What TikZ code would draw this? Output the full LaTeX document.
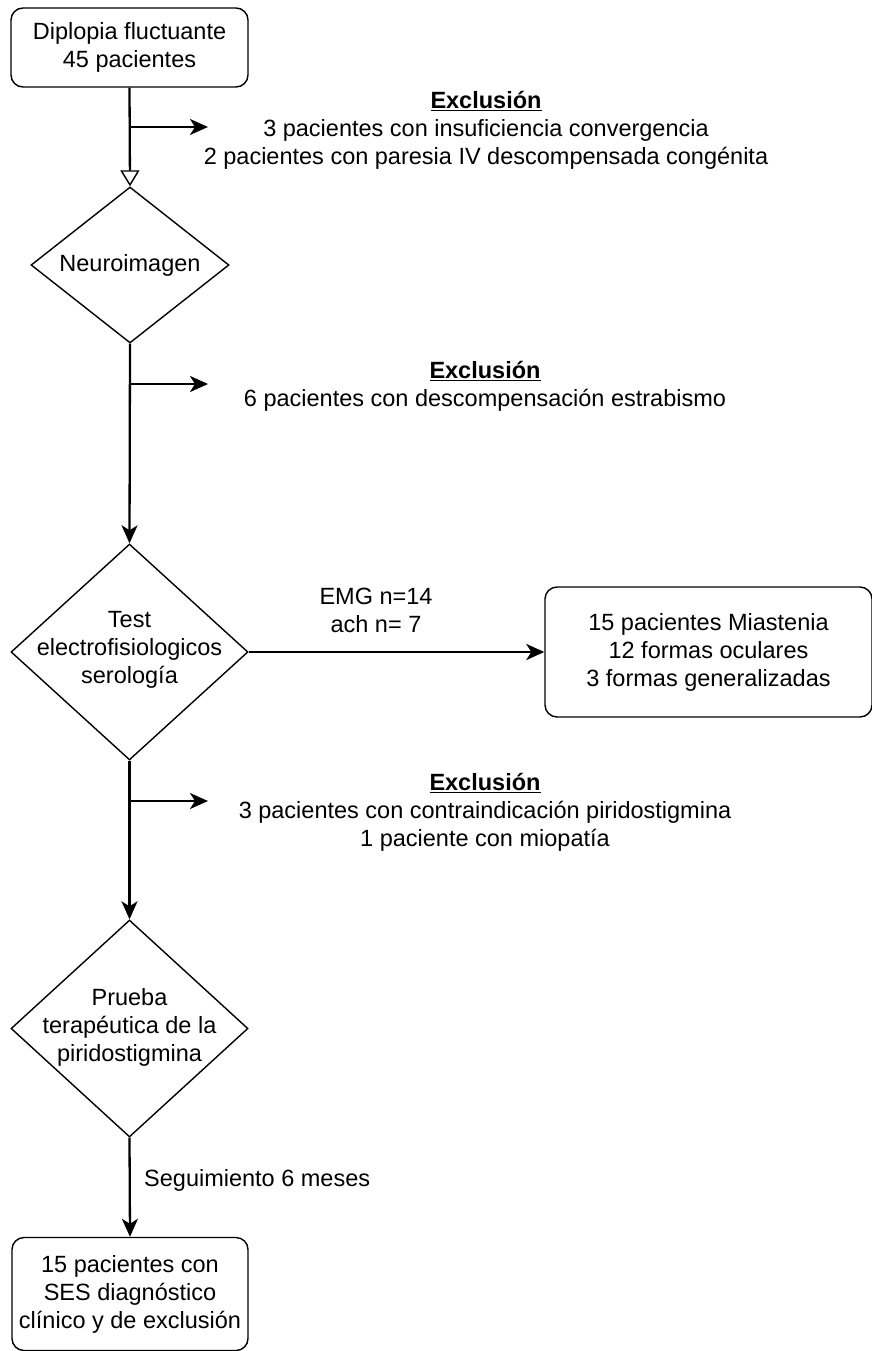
\documentclass[tikz,border=0pt]{standalone}
\usepackage{fontspec}
\setmainfont{Liberation Sans}
\usetikzlibrary{shapes.geometric,arrows.meta}
\begin{document}
\begin{tikzpicture}[x=1pt,y=-1pt,
  txt/.style={align=center,inner sep=0pt,font=\fontsize{23.5}{28}\selectfont},
  rbox/.style={draw,line width=1.4pt,rounded corners=12pt,inner sep=0pt,align=center,font=\fontsize{23.5}{28}\selectfont},
  dia/.style={draw,diamond,line width=1.4pt,inner sep=0pt},
  conn/.style={line width=2.3pt},
  arr/.style={conn,-{Stealth[length=18pt,width=16pt,inset=5pt]}},
  oarr/.style={conn,-{Triangle[open,length=16pt,width=19pt,line width=1.4pt]}}
]
\useasboundingbox (0,0) rectangle (872,1351);

% nodes
\node[rbox,minimum width=237pt,minimum height=79pt] (top) at (129.5,47.5) {Diplopia fluctuante\\45 pacientes};
\node[dia,minimum width=198pt,minimum height=156pt] (d1) at (130,265) {};
\node[txt] (t1) at (d1) {Neuroimagen};
\node[dia,minimum width=237pt,minimum height=216pt] (d2) at (129.5,652) {};
\node[txt] (t2) at (129.5,650) {Test\\electrofisiologicos\\serología};
\node[rbox,minimum width=327pt,minimum height=130pt] (r) at (708.5,652) {15 pacientes Miastenia\\12 formas oculares\\3 formas generalizadas};
\node[dia,minimum width=237pt,minimum height=217pt] (d3) at (129.5,1028.5) {};
\node[txt] (t3) at (129.5,1027) {Prueba\\terapéutica de la\\piridostigmina};
\node[rbox,minimum width=236pt,minimum height=113pt] (bot) at (130,1294) {15 pacientes con\\SES diagnóstico\\clínico y de exclusión};

% exclusion texts
\node[txt] (x1) at (486,130) {\underline{\textbf{Exclusión}}\\3 pacientes con insuficiencia convergencia\\2 pacientes con paresia IV descompensada congénita};
\node[txt] (x2) at (485,386) {\underline{\textbf{Exclusión}}\\6 pacientes con descompensación estrabismo};
\node[txt] (x3) at (485,812) {\underline{\textbf{Exclusión}}\\3 pacientes con contraindicación piridostigmina\\1 paciente con miopatía};

% labels
\node[txt] (l1) at (376,610) {EMG n=14\\ach n= 7};
\node[txt,anchor=west] (l2) at (144,1180) {Seguimiento 6 meses};

% branch coordinates
\coordinate (b1) at (130,127);
\coordinate (e1) at (208,127);
\coordinate (b2) at (130,384);
\coordinate (e2) at (208,384);
\coordinate (b3) at (130,801);
\coordinate (e3) at (208,801);

% connectors
\draw[oarr] (top.south) -- (d1.north);
\draw[arr] (b1) -- (e1);
\draw[arr] (d1.south) -- (d2.north);
\draw[arr] (b2) -- (e2);
\draw[arr] (d2.east) -- (r.west);
\draw[arr] (d2.south) -- (d3.north);
\draw[arr] (b3) -- (e3);
\draw[arr] (d3.south) -- (bot.north);
\end{tikzpicture}
\end{document}
